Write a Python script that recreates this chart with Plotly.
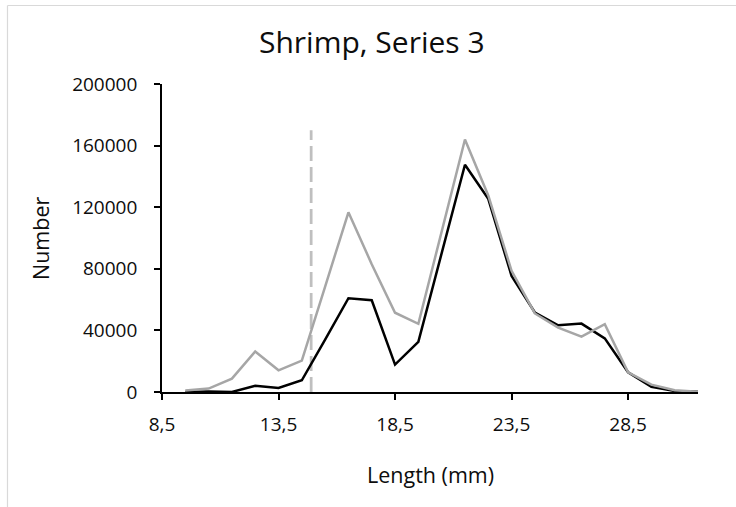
import plotly.graph_objects as go

# Data
lengths = [9.5, 10.5, 11.5, 12.5, 13.5, 14.5, 15.5, 16.5, 17.5, 18.5, 19.5, 20.5,
           21.5, 22.5, 23.5, 24.5, 25.5, 26.5, 27.5, 28.5, 29.5, 30.5, 31.5]
series_black = [0, 300, 0, 4100, 2600, 7600, 34000, 60900, 59600, 17800, 32600, 90600,
                147600, 125400, 75400, 51600, 43300, 44400, 34800, 12800, 3300, 660, 200]
series_gray = [1000, 2200, 8700, 26300, 14100, 20400, 68500, 116700, 83000, 51500, 44300, 104000,
               164000, 127600, 78700, 51000, 41800, 35900, 44000, 12800, 4800, 1100, 200]
cutoff_x = [14.9, 14.9]
cutoff_y = [0, 170000]
x_tick_vals = [8.5, 13.5, 18.5, 23.5, 28.5]
x_tick_text = ["8,5", "13,5", "18,5", "23,5", "28,5"]
y_tick_vals = [0, 40000, 80000, 120000, 160000, 200000]
y_tick_text = ["0", "40000", "80000", "120000", "160000", "200000"]

W, H = 736, 507
L, R, T, B = 162, 38, 84, 115
pw, ph = W - L - R, H - T - B

def px2paper_x(px):
    return (px - L) / pw

def px2paper_y(py):
    return (H - B - py) / ph

FONT = "Open Sans"
TXT = "#0d0d0d"

fig = go.Figure()
fig.add_trace(go.Scatter(x=cutoff_x, y=cutoff_y, mode="lines",
                         line=dict(color="#BFBFBF", width=2.75, dash="15px,6px"),
                         showlegend=False, hoverinfo="skip"))
fig.add_trace(go.Scatter(x=lengths, y=series_black, mode="lines",
                         line=dict(color="#000000", width=2.5), showlegend=False))
fig.add_trace(go.Scatter(x=lengths, y=series_gray, mode="lines",
                         line=dict(color="#A6A6A6", width=2.5), showlegend=False))

fig.update_layout(
    width=W, height=H,
    margin=dict(l=L, r=R, t=T, b=B, pad=0),
    paper_bgcolor="white", plot_bgcolor="white",
    font=dict(family=FONT, color=TXT, size=19),
    xaxis=dict(range=[8.5, 31.5], tickvals=x_tick_vals, ticktext=x_tick_text,
               showgrid=False, zeroline=False, showline=True, linecolor="black",
               linewidth=1.75, ticks="outside", ticklen=6, tickwidth=1.75, tickcolor="black",
               ticklabelstandoff=8,
               tickfont=dict(family=FONT, size=19, color=TXT)),
    yaxis=dict(range=[0, 200000], tickvals=y_tick_vals, ticktext=y_tick_text,
               showgrid=False, zeroline=False, showline=True, linecolor="black",
               linewidth=1.75, ticks="outside", ticklen=6, tickwidth=1.75, tickcolor="black",
               ticklabelstandoff=13,
               tickfont=dict(family=FONT, size=19, color=TXT)),
    shapes=[
        dict(type="line", xref="paper", yref="paper",
             x0=px2paper_x(7.5), x1=px2paper_x(740), y0=px2paper_y(5.5), y1=px2paper_y(5.5),
             line=dict(color="#D9D9D9", width=1.2)),
        dict(type="line", xref="paper", yref="paper",
             x0=px2paper_x(7.5), x1=px2paper_x(7.5), y0=px2paper_y(5.5), y1=px2paper_y(515),
             line=dict(color="#D9D9D9", width=1.2)),
    ],
    annotations=[
        dict(text="Shrimp, Series 3", xref="paper", yref="paper",
             x=px2paper_x(372), y=px2paper_y(42), showarrow=False,
             xanchor="center", yanchor="middle",
             font=dict(family=FONT, size=30, color=TXT)),
        dict(text="Length (mm)", xref="paper", yref="paper",
             x=px2paper_x(430), y=px2paper_y(474), showarrow=False,
             xanchor="center", yanchor="middle",
             font=dict(family=FONT, size=21.5, color=TXT)),
        dict(text="Number", xref="paper", yref="paper",
             x=px2paper_x(40), y=px2paper_y(238), showarrow=False, textangle=-90,
             xanchor="center", yanchor="middle",
             font=dict(family=FONT, size=21.5, color=TXT)),
    ],
)

fig.write_html("out.html")
